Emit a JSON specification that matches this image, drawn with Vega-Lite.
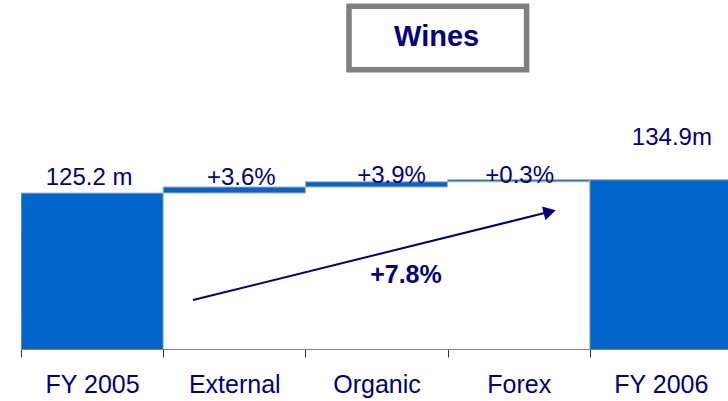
{
  "$schema": "https://vega.github.io/schema/vega-lite/v6.json",
  "autosize": {"type": "none"},
  "padding": {"left": 21, "top": 159, "right": 0, "bottom": 52},
  "width": 707,
  "height": 190,
  "background": "white",
  "config": {"view": {"stroke": null}, "font": "Liberation Sans"},
  "data": {"values": [
      {"i": 0, "step": "FY 2005", "start": 0, "end": 125.2, "label": "125.2 m"},
      {"i": 1, "step": "External", "start": 125.2, "end": 129.6, "label": "+3.6%"},
      {"i": 2, "step": "Organic", "start": 129.6, "end": 133.4, "label": "+3.9%"},
      {"i": 3, "step": "Forex", "start": 133.4, "end": 134.9, "label": "+0.3%"},
      {"i": 4, "step": "FY 2006", "start": 0, "end": 134.9, "label": "134.9m"}
  ]},
  "layer": [
    {
      "mark": {"type": "bar", "clip": true, "width": 142.2, "color": "#0066CC", "stroke": "#B4B4B4", "strokeWidth": 1},
      "encoding": {
        "x": {
          "field": "i", "type": "quantitative",
          "scale": {"domain": [-0.5, 4.472], "nice": false, "zero": false, "padding": 0},
          "axis": {
            "title": null, "values": [-0.5, 0.5, 1.5, 2.5, 3.5],
            "labelExpr": "['FY 2005','External','Organic','Forex','FY 2006'][datum.value + 0.5]",
            "labelOffset": 71.1, "labelAngle": 0,
            "domainColor": "#808080", "domainWidth": 1,
            "tickColor": "#333333", "tickSize": 8, "tickWidth": 1,
            "labelFont": "Liberation Sans", "labelFontSize": 25, "labelColor": "#000080",
            "labelBaseline": "alphabetic", "labelPadding": 35, "labelAlign": "center",
            "grid": false, "labelFlush": false, "labelOverlap": false, "labelBound": false
          }
        },
        "y": {"field": "start", "type": "quantitative", "scale": {"domain": [11.5, 150], "zero": false, "nice": false}, "axis": null},
        "y2": {"field": "end"}
      }
    },
    {
      "transform": [{"filter": "datum.step === 'FY 2005'"}],
      "mark": {"type": "text", "fontSize": 24, "color": "#000080", "baseline": "alphabetic", "align": "center", "dx": -3},
      "encoding": {
        "x": {"field": "i", "type": "quantitative"},
        "y": {"datum": 131.0, "type": "quantitative"},
        "text": {"field": "label", "type": "nominal"}
      }
    },
    {
      "transform": [{"filter": "datum.step === 'External'"}],
      "mark": {"type": "text", "fontSize": 24, "color": "#000080", "baseline": "alphabetic", "align": "center", "dx": 7},
      "encoding": {
        "x": {"field": "i", "type": "quantitative"},
        "y": {"datum": 131.0, "type": "quantitative"},
        "text": {"field": "label", "type": "nominal"}
      }
    },
    {
      "transform": [{"filter": "datum.step === 'Organic'"}],
      "mark": {"type": "text", "fontSize": 24, "color": "#000080", "baseline": "alphabetic", "align": "center", "dx": 15},
      "encoding": {
        "x": {"field": "i", "type": "quantitative"},
        "y": {"datum": 132.3, "type": "quantitative"},
        "text": {"field": "label", "type": "nominal"}
      }
    },
    {
      "transform": [{"filter": "datum.step === 'Forex'"}],
      "mark": {"type": "text", "fontSize": 24, "color": "#000080", "baseline": "alphabetic", "align": "center", "dx": 1},
      "encoding": {
        "x": {"field": "i", "type": "quantitative"},
        "y": {"datum": 132.3, "type": "quantitative"},
        "text": {"field": "label", "type": "nominal"}
      }
    },
    {
      "transform": [{"filter": "datum.step === 'FY 2006'"}],
      "mark": {"type": "text", "fontSize": 24, "color": "#000080", "baseline": "alphabetic", "align": "center", "dx": 11},
      "encoding": {
        "x": {"field": "i", "type": "quantitative"},
        "y": {"datum": 160.2, "type": "quantitative"},
        "text": {"field": "label", "type": "nominal"}
      }
    },
    {
      "data": {"values": [{"x": 1.8066, "x2": 3.0556, "y": 215.1, "y2": 261.3}]},
      "mark": {"type": "rect", "fill": "white", "stroke": "#808080", "strokeWidth": 5.5},
      "encoding": {
        "x": {"field": "x", "type": "quantitative"},
        "x2": {"field": "x2"},
        "y": {"field": "y", "type": "quantitative"},
        "y2": {"field": "y2"}
      }
    },
    {
      "data": {"values": [{"x": 2.423, "y": 232.6, "text": "Wines"}]},
      "mark": {"type": "text", "fontSize": 29, "fontWeight": "bold", "color": "#000080", "baseline": "alphabetic", "align": "center"},
      "encoding": {
        "x": {"field": "x", "type": "quantitative"},
        "y": {"field": "y", "type": "quantitative"},
        "text": {"field": "text", "type": "nominal"}
      }
    },
    {
      "data": {"values": [{"x": 0.7096, "y": 47.2}, {"x": 3.218, "y": 111.5}]},
      "mark": {"type": "line", "color": "#000080", "strokeWidth": 2},
      "encoding": {
        "x": {"field": "x", "type": "quantitative"},
        "y": {"field": "y", "type": "quantitative"}
      }
    },
    {
      "data": {"values": [{"x": 3.218, "y": 111.5}]},
      "mark": {"type": "point", "shape": "triangle-right", "size": 200, "angle": 346.1, "filled": true, "color": "#000080", "opacity": 1, "strokeWidth": 0},
      "encoding": {
        "x": {"field": "x", "type": "quantitative"},
        "y": {"field": "y", "type": "quantitative"}
      }
    },
    {
      "data": {"values": [{"x": 2.207, "y": 59.4, "text": "+7.8%"}]},
      "mark": {"type": "text", "fontSize": 25, "fontWeight": "bold", "color": "#000080", "baseline": "alphabetic", "align": "center"},
      "encoding": {
        "x": {"field": "x", "type": "quantitative"},
        "y": {"field": "y", "type": "quantitative"},
        "text": {"field": "text", "type": "nominal"}
      }
    }
  ]
}
